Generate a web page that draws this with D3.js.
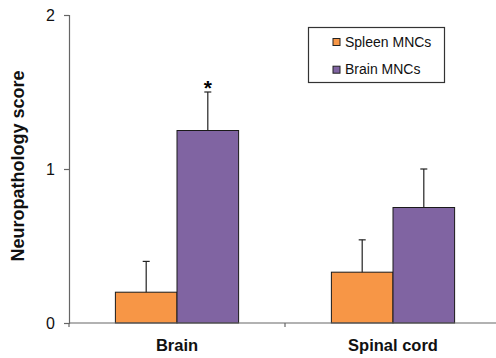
<!DOCTYPE html>
<html>
<head>
<meta charset="utf-8">
<script src="https://cdn.jsdelivr.net/npm/d3@7/dist/d3.min.js"></script>
<style>
  html, body { margin: 0; padding: 0; background: #fff; }
  svg { display: block; font-family: "Liberation Sans", Arial, sans-serif; }
</style>
</head>
<body>
<svg id="chart" width="496" height="358"></svg>
<script>
// Tissue categories along the x axis
const categories = ["Brain", "Spinal cord"];
// Cell-transfer groups (legend order)
const series = ["Spleen MNCs", "Brain MNCs"];
// Mean neuropathology score per series, per category
const spleenValues = [0.2, 0.33];
const brainValues = [1.25, 0.75];
// Upper error (SD) per series, per category
const spleenErrors = [0.2, 0.21];
const brainErrors = [0.25, 0.25];
// Significance marks per category for the Brain MNCs bars
const brainMarks = ["*", ""];
// Y tick values
const yTicks = [0, 1, 2];

const colors = { "Spleen MNCs": "#F79646", "Brain MNCs": "#8064A2" };

const rows = [];
categories.forEach((c, i) => {
  rows.push({ cat: c, s: "Spleen MNCs", v: spleenValues[i], e: spleenErrors[i], mark: "" });
  rows.push({ cat: c, s: "Brain MNCs", v: brainValues[i], e: brainErrors[i], mark: brainMarks[i] });
});

const svg = d3.select("#chart");
const x0 = d3.scaleBand().domain(categories).range([69, 501]).paddingInner(0).paddingOuter(0);
const x1 = d3.scaleBand().domain(series).range([0, x0.bandwidth()]).paddingInner(0).paddingOuter(0.753);
const y = d3.scaleLinear().domain([0, 2]).range([323, 15]);

// Bars
svg.append("g").selectAll("rect").data(rows).join("rect")
  .attr("x", d => x0(d.cat) + x1(d.s))
  .attr("y", d => y(d.v))
  .attr("width", x1.bandwidth())
  .attr("height", d => y(0) - y(d.v))
  .attr("fill", d => colors[d.s])
  .attr("stroke", "#1a1a1a")
  .attr("stroke-width", 1);

// Upper error bars
const eb = svg.append("g").attr("stroke", "#222").attr("stroke-width", 1.2);
rows.forEach(d => {
  const cx = x0(d.cat) + x1(d.s) + x1.bandwidth() / 2;
  eb.append("line").attr("x1", cx).attr("x2", cx).attr("y1", y(d.v)).attr("y2", y(d.v + d.e));
  eb.append("line").attr("x1", cx - 3.5).attr("x2", cx + 3.5).attr("y1", y(d.v + d.e)).attr("y2", y(d.v + d.e));
});

// Significance marks
svg.append("g").selectAll("text").data(rows.filter(d => d.mark)).join("text")
  .attr("x", d => x0(d.cat) + x1(d.s) + x1.bandwidth() / 2)
  .attr("y", d => y(d.v + d.e) + 3)
  .attr("text-anchor", "middle")
  .attr("font-size", 21)
  .attr("font-weight", "bold")
  .attr("fill", "#000")
  .text(d => d.mark);

// Y axis
const yAxis = svg.append("g").attr("transform", "translate(69,0)")
  .call(d3.axisLeft(y).tickValues(yTicks).tickFormat(d3.format("d")).tickSize(5).tickPadding(9));
yAxis.select(".domain").attr("stroke", "#666").attr("stroke-width", 1.2);
yAxis.selectAll(".tick line").attr("stroke", "#666").attr("stroke-width", 1.2);
yAxis.selectAll(".tick text").attr("font-size", 16).attr("fill", "#111")
  .attr("font-family", "'Liberation Sans', Arial, sans-serif");

// X axis: baseline with ticks at category boundaries
const xg = svg.append("g");
xg.append("line").attr("x1", 69).attr("x2", 501).attr("y1", y(0)).attr("y2", y(0))
  .attr("stroke", "#666").attr("stroke-width", 1.2);
const bounds = categories.map(c => x0(c)).concat([x0.range()[1]]);
xg.selectAll("line.tk").data(bounds).join("line").attr("class", "tk")
  .attr("x1", d => d).attr("x2", d => d).attr("y1", y(0)).attr("y2", y(0) + 4)
  .attr("stroke", "#666").attr("stroke-width", 1.2);
xg.selectAll("text").data(categories).join("text")
  .attr("x", d => x0(d) + x0.bandwidth() / 2)
  .attr("y", 351)
  .attr("text-anchor", "middle")
  .attr("font-size", 16.5)
  .attr("font-weight", "bold")
  .attr("fill", "#111")
  .text(d => d);

// Y axis title
svg.append("text")
  .attr("transform", "translate(24,166) rotate(-90)")
  .attr("text-anchor", "middle")
  .attr("font-size", 18)
  .attr("font-weight", "bold")
  .attr("fill", "#111")
  .text("Neuropathology score");

// Legend
const lg = svg.append("g");
lg.append("rect").attr("x", 308.5).attr("y", 27.5).attr("width", 136).attr("height", 55)
  .attr("fill", "#fff").attr("stroke", "#333").attr("stroke-width", 1.2);
series.forEach((s, i) => {
  const yy = 38.5 + i * 27.7;
  lg.append("rect").attr("x", 333).attr("y", yy).attr("width", 7).attr("height", 7)
    .attr("fill", colors[s]).attr("stroke", "#222").attr("stroke-width", 1);
  lg.append("text").attr("x", 345).attr("y", yy + 8).attr("font-size", 14).attr("fill", "#111").text(s);
});
</script>
</body>
</html>
